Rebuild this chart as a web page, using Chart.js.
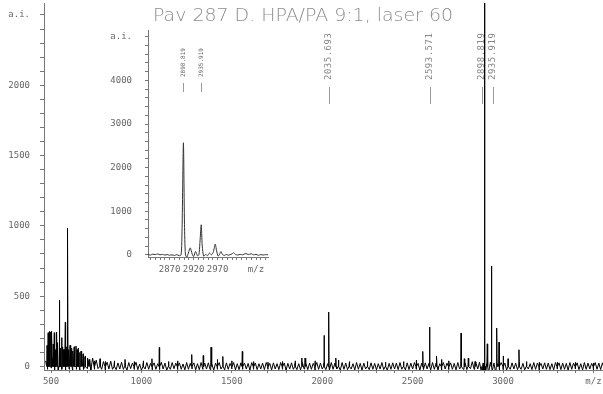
<!DOCTYPE html>
<html><head><meta charset="utf-8">
<script src="https://cdn.jsdelivr.net/npm/chart.js@4.4.1/dist/chart.umd.min.js"></script>
<style>
html,body{margin:0;padding:0;background:#fff;}
#wrap{position:relative;width:603px;height:394px;overflow:hidden;}
#main{position:absolute;left:0;top:0;}
#inset{position:absolute;left:95px;top:25px;}
</style>
</head><body>
<div id="wrap"><canvas id="main" width="603" height="394"></canvas><canvas id="inset" width="185" height="255"></canvas></div>
<script>
// ---------- DATA ----------
const titleText = 'Pav 287 D. HPA/PA 9:1, laser 60';

// baseline noise of the full spectrum, sampled every 10 m/z from 470
const noiseStartMz = 470, noiseStepMz = 10;
const noiseInt = [
40,-20,90,-10,60,-30,110,-25,70,-20,120,-30,85,-20,100,-35,70,-20,80,-25,
60,-20,75,-15,50,-25,60,-20,45,-15,40,-20,35,-25,30,-18,38,-20,28,-22,
25,-18,30,-20,22,-25,28,-15,24,-20,30,-22,18,-26,24,-18,28,-20,22,-24,
26,-20,20,-22,30,-18,24,-26,22,-20,28,-16,24,-22,26,-20,18,-24,28,-20,
22,-18,26,-24,20,-22,28,-20,24,-18,26,-22,20,-26,24,-20,28,-18,22,-24,
26,-20,22,-18,28,-24,20,-22,26,-20,24,-18,22,-26,28,-20,24,-22,20,-18,
24,-22,28,-20,22,-24,26,-18,20,-22,28,-20,24,-26,22,-18,26,-20,24,-22,
20,-24,28,-18,26,-22,24,-20,22,-26,28,-20,24,-18,26,-22,20,-24,28,-20,
24,-18,22,-26,28,-20,24,-22,26,-18,20,-24,28,-20,22,-26,24,-18,28,-22,
26,-20,22,-24,20,-18,28,-22,24,-26,22,-20,26,-18,24,-22,28,-20,20,-24,
26,-22,24,-18,28,-20,22,-26,24,-20,26,-18,22,-24,28,-20,24,-22,20,-26,
28,-18,24,-22,26,-20,22,-24,28,-18,30,-20,26,-22,32,-16,34,-20,36,-18,
30,-40,25,-60,20,-45,30,-35,25,-50,20,-30,28,-22,24,-26,22,-20,26,-18,
24,-22,28,-20,22,-24,26,-18,20,-22,28,-20,24,-26,22,-18,26,-20,24,-22,
20,-24,28,-18,26,-22,24,-20,22,-26,28,-20,24,-18,26,-22,20,-24,28,-20,
24,-18,22,-26,28,-20,24,-22,26,-18
];

// peaks of the full spectrum (m/z, a.i.)
const peakMz = [478,484,492,498,505,512,518,524,531,537,546,552,559,565,572,579,585,592,598,605,614,621,628,638,644,650,658,666,677,688,703,715,740,771,800,850,909,960,1010,1058,1099,1150,1200,1278,1342,1385,1420,1450,1500,1558,1620,1700,1780,1850,1887,1905,1960,2010,2035.693,2075,2090,2150,2250,2350,2450,2520,2556,2593.571,2633,2660,2700,2768,2786,2808,2845,2885,2893,2898.819,2905,2913,2935.919,2965,2978,3001,3028,3088,3130,3200,3300,3400,3500];
const peakInt = [150,240,250,245,250,160,240,120,245,170,470,130,205,140,120,315,140,985,120,150,130,110,140,145,120,130,100,110,90,70,60,45,40,55,35,40,50,35,40,55,135,35,40,85,78,137,50,71,40,107,35,30,35,40,60,60,40,221,387,60,45,35,35,30,35,45,107,280,75,50,40,237,55,60,35,-60,-50,2600,-55,161,715,273,173,75,55,119,35,30,30,30,25];

// annotated peaks
const annotLabels = ['2035.693','2593.571','2898.819','2935.919'];
const annotMz = [2035.693,2593.571,2898.819,2935.919];
const insetAnnotLabels = ['2898.819','2935.919'];
const insetAnnotMz = [2898.819,2935.919];

// inset profile (m/z, a.i.)
const insetMz = [2825,2830,2835,2840,2845,2850,2855,2860,2865,2870,2875,2880,2885,2890,2894,2896,2898.8,2901,2903,2906,2909,2913,2917,2920,2924,2928,2931,2933,2935.9,2938,2941,2945,2949,2953,2957,2961,2965,2968,2971,2974,2977,2980,2984,2988,2992,2996,3000,3003,3007,3012,3017,3022,3029,3034,3040,3045,3050,3055,3060,3065,3070,3075];
const insetInt = [10,-5,15,5,20,0,10,-5,5,-10,0,-15,5,-20,0,600,2570,700,0,-60,40,160,20,-40,75,-20,0,250,690,200,-30,10,-20,40,0,60,245,90,-30,10,75,10,-15,10,-10,5,20,50,10,-5,10,0,30,5,25,0,10,-10,5,-5,5,0];

// axis ticks
const mainXMajor = [500,1000,1500,2000,2500,3000,3500];
const mainXLabels = ['500','1000','1500','2000','2500','3000','m/z'];
const mainYMajor = [0,500,1000,1500,2000,2500];
const mainYLabels = ['0','500','1000','1500','2000','a.i.'];
const insetXMajor = [2870,2920,2970,3050];
const insetXLabels = ['2870','2920','2970','m/z'];
const insetYMajor = [0,1000,2000,3000,4000,5000];
const insetYLabels = ['0','1000','2000','3000','4000','a.i.'];

// ---------- BUILD ----------
const mainPoints = [];
noiseInt.forEach((v,i)=>mainPoints.push({x:noiseStartMz+i*noiseStepMz,y:v}));
peakMz.forEach((m,i)=>{
  mainPoints.push({x:m-2,y:0});
  mainPoints.push({x:m,y:peakInt[i]});
  mainPoints.push({x:m+2,y:0});
});
mainPoints.sort((a,b)=>a.x-b.x);
const insetPoints = insetMz.map((m,i)=>({x:m,y:insetInt[i]}));

function range(a,b,s){const r=[];for(let v=a;v<=b+1e-9;v+=s)r.push(v);return r;}
function labelMap(vals,labels){const m={};vals.forEach((v,i)=>m[v]=labels[i]);return m;}
const mxMap = labelMap(mainXMajor,mainXLabels), myMap = labelMap(mainYMajor,mainYLabels);
const ixMap = labelMap(insetXMajor,insetXLabels), iyMap = labelMap(insetYMajor,insetYLabels);

const tickFont = {family:"'DejaVu Sans Mono', monospace", size:9};
const tickColor = '#666';
const axisColor = '#777';

function noPad(s){s.paddingTop=0;s.paddingBottom=0;s.paddingLeft=0;s.paddingRight=0;}
function axis(opts){
  return Object.assign({
    type:'linear',
    grid:{drawOnChartArea:false,drawTicks:true,tickLength:3,color:axisColor,lineWidth:1},
    border:{display:true,color:axisColor,width:1},
  },opts);
}

new Chart(document.getElementById('main'),{
  type:'line',
  data:{datasets:[{data:mainPoints,borderColor:'#000',borderWidth:1,pointRadius:0,tension:0,fill:false}]},
  options:{
    responsive:false,animation:false,devicePixelRatio:1,
    layout:{padding:{top:3,left:0,right:0,bottom:0}},
    plugins:{legend:{display:false},tooltip:{enabled:false}},
    scales:{
      x:axis({position:'bottom',min:461,max:3553,
        afterBuildTicks:s=>{s.ticks=range(500,3500,100).map(v=>({value:v}));},
        afterFit:s=>{s.height=24;noPad(s);},
        ticks:{autoSkip:false,maxRotation:0,minRotation:0,font:tickFont,color:tickColor,padding:3,callback:v=>mxMap[v]??''}}),
      y:axis({position:'left',min:-25,max:2585,
        afterBuildTicks:s=>{s.ticks=range(0,2500,100).map(v=>({value:v}));},
        afterFit:s=>{s.width=44;noPad(s);},
        grid:{drawOnChartArea:false,drawTicks:true,tickLength:4,color:axisColor,lineWidth:1},
        ticks:{autoSkip:false,font:tickFont,color:tickColor,padding:10,callback:v=>myMap[v]??''}})
    }
  },
  plugins:[{id:'mainDecor',afterDraw(chart){
    const ctx=chart.ctx, x=chart.scales.x;
    ctx.save();
    ctx.font="200 18px 'DejaVu Sans'";
    const w=ctx.measureText(titleText).width;
    ctx.translate(153,21); ctx.scale(300/w,1);
    ctx.fillStyle='#8c8c8c'; ctx.textBaseline='alphabetic'; ctx.textAlign='left';
    ctx.fillText(titleText,0,0);
    ctx.restore();
    const shift=[0,0,-3,2];
    ctx.save();
    ctx.font="9px 'DejaVu Sans Mono'";
    ctx.letterSpacing='0.5px';
    ctx.fillStyle='#888'; ctx.strokeStyle='#999'; ctx.lineWidth=1;
    annotMz.forEach((m,i)=>{
      const px=Math.round(x.getPixelForValue(m))+shift[i];
      ctx.save(); ctx.translate(px,80); ctx.rotate(-Math.PI/2);
      ctx.textAlign='left'; ctx.textBaseline='middle';
      ctx.fillText(annotLabels[i],0,0); ctx.restore();
      ctx.beginPath(); ctx.moveTo(px+0.5,87); ctx.lineTo(px+0.5,104); ctx.stroke();
    });
    ctx.restore();
  }}]
});

new Chart(document.getElementById('inset'),{
  type:'line',
  data:{datasets:[{data:insetPoints,borderColor:'#333',borderWidth:1,pointRadius:0,tension:0.25,fill:false}]},
  options:{
    responsive:false,animation:false,devicePixelRatio:1,
    layout:{padding:{top:5,left:0,right:12,bottom:0}},
    plugins:{legend:{display:false},tooltip:{enabled:false}},
    scales:{
      x:axis({position:'bottom',min:2825,max:3075,
        afterBuildTicks:s=>{s.ticks=range(2830,3070,10).map(v=>({value:v}));},
        afterFit:s=>{s.height=23;noPad(s);},
        ticks:{autoSkip:false,maxRotation:0,minRotation:0,font:tickFont,color:tickColor,padding:4,callback:v=>ixMap[v]??''}}),
      y:axis({position:'left',min:-50,max:5156,
        afterBuildTicks:s=>{s.ticks=range(0,5000,200).map(v=>({value:v}));},
        afterFit:s=>{s.width=53;noPad(s);},
        ticks:{autoSkip:false,font:tickFont,color:tickColor,padding:13,callback:v=>iyMap[v]??''}})
    }
  },
  plugins:[{id:'insetDecor',afterDraw(chart){
    const ctx=chart.ctx, x=chart.scales.x;
    ctx.save();
    ctx.font="6px 'DejaVu Sans Mono'";
    ctx.fillStyle='#666'; ctx.strokeStyle='#999'; ctx.lineWidth=1;
    insetAnnotMz.forEach((m,i)=>{
      const px=Math.round(x.getPixelForValue(m));
      ctx.save(); ctx.translate(px,52); ctx.rotate(-Math.PI/2);
      ctx.textAlign='left'; ctx.textBaseline='middle';
      ctx.fillText(insetAnnotLabels[i],0,0); ctx.restore();
      ctx.beginPath(); ctx.moveTo(px+0.5,58); ctx.lineTo(px+0.5,67); ctx.stroke();
    });
    ctx.restore();
  }}]
});
</script>
</body></html>
